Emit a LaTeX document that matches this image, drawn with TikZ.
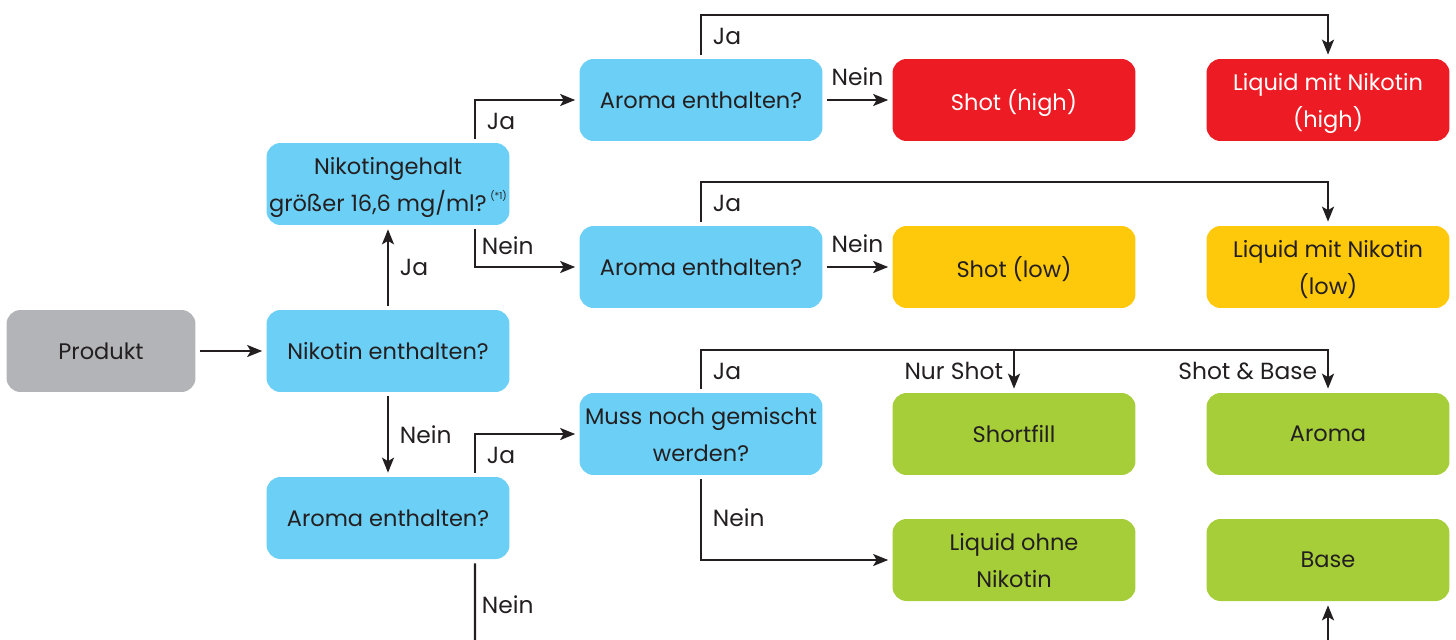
\documentclass[tikz,border=0pt]{standalone}
\usepackage{fontspec}
\setmainfont{Poppins}
\usetikzlibrary{arrows.meta, positioning, calc}
\definecolor{prodgrey}{RGB}{179,180,184}
\definecolor{askblue}{RGB}{108,207,246}
\definecolor{highred}{RGB}{237,28,36}
\definecolor{lowyellow}{RGB}{255,201,11}
\definecolor{nullgreen}{RGB}{166,206,57}
\definecolor{inkdark}{RGB}{35,31,32}

\begin{document}
\begin{tikzpicture}[x=0.02cm, y=-0.02cm,
        block/.style={rounded corners=0.28cm, minimum width=4.86cm, minimum height=1.64cm, inner xsep=1pt, align=center, text=inkdark, text depth=0pt, font=\fontsize{12.8}{21}\selectfont},
        arrow/.style={-{Stealth[length=0.3cm, width=0.24cm, inset=0.07cm]}, line width=0.045cm, draw=inkdark, shorten <=0.08cm, shorten >=0.08cm},
        plainline/.style={line width=0.045cm, draw=inkdark, shorten <=0.08cm},
        lbl/.style={text=inkdark, font=\fontsize{13.3}{15}\selectfont}
    ]
        \useasboundingbox (0,0) rectangle (1456,639);

        % Start
        \node[block, fill=prodgrey, minimum width=3.78cm] (prod) at (101, 351) {Produkt};

        % First questions
        \node[block, fill=askblue] (nik) at (388, 351) {Nikotin enthalten?};
        \node[block, fill=askblue] (gehalt) at (388, 184) {
            Nikotingehalt\\
            größer 16,6 mg/ml?\,\raisebox{0.9ex}{\fontsize{5.5}{6}\selectfont(*1)}
        };
        \node[block, fill=askblue] (aromaL) at (388, 518) {Aroma enthalten?};

        % Second questions
        \node[block, fill=askblue] (aromaT) at (701, 100) {Aroma enthalten?};
        \node[block, fill=askblue] (aromaM) at (701, 267) {Aroma enthalten?};
        \node[block, fill=askblue] (muss) at (701, 434) {Muss noch gemischt\\werden?};

        % High
        \node[block, fill=highred, text=white] (shotH) at (1014, 100) {Shot (high)};
        \node[block, fill=highred, text=white] (liqH) at (1328, 100) {Liquid mit Nikotin\\(high)};

        % Low
        \node[block, fill=lowyellow] (shotL) at (1014, 267) {Shot (low)};
        \node[block, fill=lowyellow] (liqL) at (1328, 267) {Liquid mit Nikotin\\(low)};

        % Ohne Nikotin
        \node[block, fill=nullgreen] (shortfill) at (1014, 434) {Shortfill};
        \node[block, fill=nullgreen] (aromaG) at (1328, 434) {Aroma};
        \node[block, fill=nullgreen] (liqO) at (1014, 560) {Liquid ohne\\Nikotin};
        \node[block, fill=nullgreen] (base) at (1328, 560) {Base};

        % Loose ends
        \coordinate (offbottom) at (475, 650);
        \coordinate (basein) at (1328, 650);

        % Arrows
        \draw[arrow] (prod) -- (nik);
        \draw[arrow] (nik) -- node[lbl, right=0.1cm] {Ja} (gehalt);
        \draw[arrow] (nik) -- node[lbl, right=0.1cm] {Nein} (aromaL);

        \draw[arrow] ([xshift=1.74cm]gehalt.north) |- node[lbl, pos=0.25, right=0.1cm] {Ja} (aromaT.west);
        \draw[arrow] ([xshift=1.74cm]gehalt.south) |- node[lbl, pos=0.25, right] {Nein} (aromaM.west);
        \draw[arrow] ([xshift=1.74cm]aromaL.north) |- node[lbl, pos=0.25, right=0.1cm] {Ja} (muss.west);
        \draw[plainline] ([xshift=1.74cm]aromaL.south) -- node[lbl, right] {Nein} (offbottom);

        \draw[arrow] (aromaT) -- node[lbl, above=0.15cm] {Nein} (shotH);
        \draw[arrow] (aromaT.north) -- ++(0,-44) node[lbl, midway, right=0.1cm] {Ja} -| (liqH.north);
        \draw[arrow] (aromaM) -- node[lbl, above=0.15cm] {Nein} (shotL);
        \draw[arrow] (aromaM.north) -- ++(0,-44) node[lbl, midway, right=0.1cm] {Ja} -| (liqL.north);

        \draw[arrow] (muss.north) -- ++(0,-43) coordinate (mussfork) node[lbl, midway, right=0.1cm] {Ja}
            -| node[lbl, pos=0.75, left=0.08cm] {Shot \& Base} (aromaG.north);
        \draw[arrow, shorten <=0pt] (mussfork -| shortfill.north) -- node[lbl, left=0.08cm] {Nur Shot} (shortfill.north);
        \draw[arrow] (muss.south) |- node[lbl, pos=0.25, right=0.1cm] {Nein} (liqO.west);

        \draw[arrow] (basein) -- (base);
    \end{tikzpicture}
\end{document}
